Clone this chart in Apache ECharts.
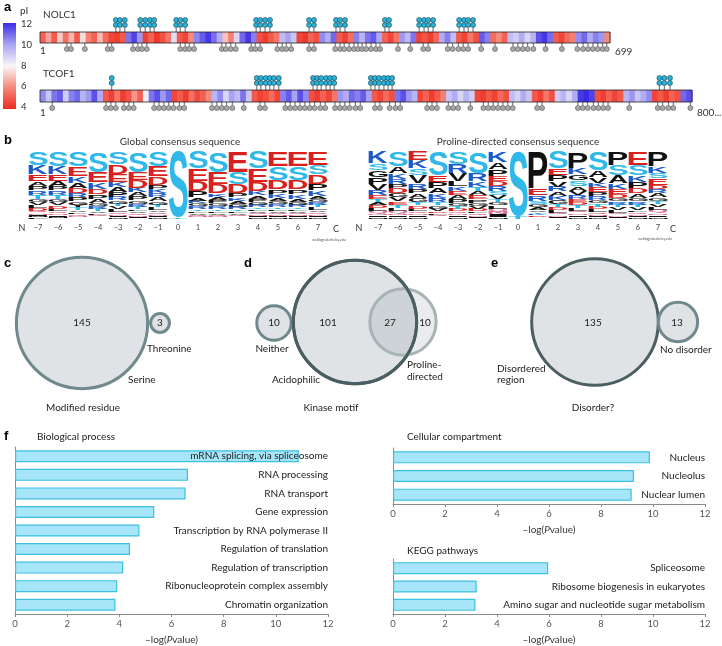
<!DOCTYPE html>
<html><head><meta charset="utf-8">
<script src="https://cdn.jsdelivr.net/npm/echarts@6/dist/echarts.min.js"></script>
<style>html,body{margin:0;padding:0;background:#fff}#c{width:722px;height:646px}</style>
</head><body><div id="c"></div>
<script>
// ---------------- DATA ----------------
// Panel a: pI profile (binned), protein lengths, phosphosites [residue, stacked circles]
const nolc1Length = 699;
const tcof1Length = 800;
const nolc1PI = [5.2,6.5,5.0,7.2,5.5,6.8,5.0,7.5,5.8,5.2,6.9,5.4, 4.6,4.4,5.0, 10.8,11.6,10.2, 4.5,5.2,4.3,4.8,5.6, 8.6, 5.0,4.6,6.0,
  10.5,11.2,11.8,10.9,9.8, 7.0,5.8,8.8, 11.0,11.8,10.6, 4.8,4.4,5.0,5.6, 9.4,10.0,9.2, 4.6,4.3,5.2,4.8, 10.4,9.8,11.0, 5.0,4.5,5.4,
  10.6,9.6,10.8,11.2,9.9, 5.2,4.6,5.6, 10.2,9.5,10.8, 4.5,4.9,4.4,5.3, 9.8,10.6,9.4, 5.0,4.5,5.6,4.8, 11.2,10.6, 5.4,6.0,5.2,
  9.4,9.0,9.8,8.8,9.6, 11.4,11.8,10.9, 5.0,4.6,5.4,5.8, 10.4,11.0,9.8,10.6,10.2, 6.0];
const tcof1PI = [10.4,9.2,10.8,11.2,9.0,10.6,11.0,9.6,10.2,11.4,9.8, 5.0,4.5,5.6,4.4,4.9,6.2,5.2, 8.2, 10.8,11.4,10.2,11.0,
  4.6,5.0,4.4,5.5,4.7,5.2,6.0, 9.6,10.4,8.8,10.0,9.4,10.8,9.2, 5.0,4.5,4.8,5.4,4.6, 10.6,11.2,10.0,11.4,10.4, 4.8,4.4,5.2,4.6,5.6,
  10.2,9.8,11.0,10.6,11.2,10.0, 5.0,4.6,5.4,4.8, 10.8,11.4,10.2,9.6, 4.6,5.2,4.4,5.0,5.8, 9.2,9.8,8.8,9.6,9.0, 4.7,4.4,5.0,4.5,5.3,4.8,
  9.4,8.9,9.8,9.2, 5.0,4.5,5.6,4.8, 9.0,9.6,8.8,9.8, 11.8,12.0,11.6, 4.8,4.4,5.2,4.6,5.0, 9.6,10.2,9.2,9.8,10.4, 4.6,5.0,4.4,5.2,4.8, 11.0,11.4];
const nolc1Above = [[93,2],[98,2],[104,2],[123,2],[129,2],[135,2],[140,2],[167,2],[172,2],[178,2],[265,2],[270,2],[276,2],[282,2],
  [330,2],[336,2],[363,2],[368,2],[374,2],[423,2],[428,2],[465,2],[471,2],[476,2],[482,2],[514,2],[520,2],[525,2],[531,2]];
const nolc1Below = [33,38,55,83,88,114,120,125,131,172,178,183,189,223,228,234,240,259,264,270,291,297,302,308,330,336,362,368,373,379,
  385,390,395,400,406,412,417,439,454,470,476,500,506,513,519,525,541,558,580,586,592,598,605,620,640,659,666,672,678,684,690,695];
const tcof1Above = [[88,2],[266,2],[271,2],[277,2],[282,2],[287,2],[293,2],[335,2],[340,2],[345,2],[351,2],[356,2],[361,2],
  [406,2],[411,2],[416,2],[422,2],[427,2],[432,2],[760,2],[766,2],[773,2]];
const tcof1Below = [15,81,87,93,103,109,115,140,146,152,158,164,171,177,211,217,223,229,236,250,270,276,301,307,313,319,325,331,337,344,350,
  362,368,374,380,387,393,411,417,429,436,442,475,481,487,501,507,513,528,544,550,556,562,568,574,580,610,616,660,666,672,679,685,691,697,723,
  758,764,771,777,798];
const pITicks = [12,10,8,6,4];

// Panel b: sequence logos (letter:percent, top to bottom)
const logoPositions = ['−7','−6','−5','−4','−3','−2','−1','0','1','2','3','4','5','6','7'];
const globalLogo = [
  'S20 K14 E10 A7 P7 R6 T6 G5 V5 L4 D4 Q3 N3 I2 M2 F2',
  'S22 K12 E9 A8 P7 R6 T6 G5 V5 D5 L4 Q3 N3 I2 M2 F1',
  'S22 E14 K10 A8 D8 R6 P6 G5 Y4 T4 V3 L3 Q3 N2 I1 M1',
  'S30 E15 K10 D8 P7 A6 G5 R4 T4 V3 L3 Q2 N1 I1 M1',
  'S18 D14 E12 K8 A7 P7 R5 G5 T4 V4 L4 Q3 N3 I2 M2',
  'S30 E12 D11 K7 A6 P6 G5 R4 T4 L3 V3 Q3 N2 I2 M1',
  'S22 E15 D12 P7 K6 R6 A6 G5 T4 L4 V3 Q3 N3 I2 M2',
  'S98 T2',
  'S25 E18 D15 P10 A5 K4 G4 R4 T3 L3 V3 Q2 N2 I1 M1',
  'S30 E18 D14 K5 A5 P5 G4 R4 T3 L3 V3 Q2 N2 I1 M1',
  'E30 S18 D14 P6 K5 A5 G4 R4 T3 L3 V3 Q2 N1 I1 M1',
  'S25 E20 D14 K6 A5 P5 G4 R4 T3 L3 V3 Q2 N2 I2 M2',
  'E22 S20 D14 P7 K6 A5 G4 R4 T3 L3 V3 Q3 N2 I2 M2',
  'E22 S20 D14 P7 K7 A5 G4 R4 T3 L3 V3 Q2 N2 I2 M2',
  'E20 S14 D14 P10 K8 A5 G4 R4 T4 L4 V3 Q3 N3 I2 M2'];
const prolineLogo = [
  'K17 S10 G11 P10 V9 R7 E6 T5 A5 D4 L4 Q4 N3 I3 M2',
  'S22 A10 K8 R8 P7 D7 G6 V6 E5 T5 L4 Q4 N3 I3 M2',
  'E13 K12 S10 V12 R8 P7 A7 G6 T5 D5 L4 Q3 N3 I3 M2',
  'S35 E10 P9 A8 K7 R6 T5 G5 V4 D3 L3 Q2 N1 I1 M1',
  'S18 R14 V11 L8 K7 E6 A6 P6 G5 T4 D4 Q3 N3 I3 M2',
  'S32 R12 K8 T7 A6 E6 P5 G5 V4 D4 L3 Q3 N2 I2 M1',
  'K16 A10 P10 E8 D7 R7 S6 V6 T5 G5 L5 Q4 N4 I4 M3',
  'S96 T4',
  'P55 E10 R8 S5 G5 A4 V3 T3 K2 D2 L1 Q1 N1',
  'S25 E10 P9 V8 R7 A7 K6 G6 T5 D4 L4 Q3 N3 I2 M1',
  'P24 K10 G9 S8 A7 V6 R6 E5 D5 T4 L4 Q3 N3 I3 M3',
  'S28 A10 V8 K7 E7 P6 R6 G5 T5 D4 L4 Q3 N3 I2 M2',
  'P20 S15 A12 K8 E8 D6 G5 R5 T4 V4 L4 Q3 N3 I2 M1',
  'E20 S15 K10 P9 D8 A7 G5 R5 T4 V4 L3 Q3 N3 I2 M2',
  'P22 K10 S8 E10 D6 R6 A6 G5 T5 V5 L4 Q4 N3 I3 M3'];

// Panels c–e: Venn counts
const modifiedResidue = {Serine:145, Threonine:3};
const kinaseMotif = {Neither:10, AcidophilicOnly:101, Both:27, ProlineOnly:10};
const disorderCounts = {Disordered:135, NoDisorder:13};

// Panel f: enrichment
const bioTerms = ['mRNA splicing, via spliceosome','RNA processing','RNA transport','Gene expression','Transcription by RNA polymerase II',
  'Regulation of translation','Regulation of transcription','Ribonucleoprotein complex assembly','Chromatin organization'];
const bioValues = [10.88, 6.63, 6.54, 5.34, 4.77, 4.41, 4.15, 3.92, 3.85];
const cellTerms = ['Nucleus','Nucleolus','Nuclear lumen'];
const cellValues = [9.88, 9.27, 9.18];
const keggTerms = ['Spliceosome','Ribosome biogenesis in eukaryotes','Amino sugar and nucleotide sugar metabolism'];
const keggValues = [5.97, 3.22, 3.17];

// ---------------- STYLE ----------------
const FF = 'Lato';
const FS = 10;
const pIColors = ['#ee2a1c','#f5897c','#faf6f7','#a9a4f2','#3b2be6']; // 4,6,8,10,12
const chart = echarts.init(document.getElementById('c'), null, {renderer:'canvas'});

function bins(arr, len){ const w = len/arr.length; return arr.map((v,i)=>[i*w,(i+1)*w,v]); }
function stripRender(params, api){
  const p0 = api.coord([api.value(0), 1]);
  const p1 = api.coord([api.value(1), 0]);
  return {type:'rect', shape:{x:p0[0], y:p0[1], width:p1[0]-p0[0]+0.6, height:p1[1]-p0[1]}, style:{fill: api.visual('color')}};
}
function outlineRender(params, api){
  const p0 = api.coord([0, 1]); const p1 = api.coord([api.value(0), 0]);
  return {type:'rect', shape:{x:p0[0], y:p0[1], width:p1[0]-p0[0], height:p1[1]-p0[1]}, style:{fill:'none', stroke:'#222', lineWidth:0.8}};
}
function lollipop(dir, fill, stroke){
  return function(params, api){
    const p = api.coord([api.value(0), dir > 0 ? 1 : 0]);
    const n = api.value(1);
    const r = 2.5, stem = dir > 0 ? 4.5 : 3.5;
    const ch = [{type:'line', shape:{x1:p[0], y1:p[1], x2:p[0], y2:p[1]-dir*stem}, style:{stroke:'#222', lineWidth:0.7}}];
    for (let k = 0; k < n; k++) {
      ch.push({type:'circle', shape:{cx:p[0], cy:p[1]-dir*(stem + r + k*2*r), r:r}, style:{fill:fill, stroke:stroke, lineWidth:0.6}});
    }
    return {type:'group', children: ch};
  };
}

// glyph metrics
const mctx = document.createElement('canvas').getContext('2d');
const LF = 'bold 100px "Liberation Sans"';
const gcache = {};
function glyph(ch){
  if (!gcache[ch]) {
    mctx.font = LF; mctx.textBaseline = 'middle'; mctx.textAlign = 'center';
    const m = mctx.measureText(ch);
    gcache[ch] = {l:m.actualBoundingBoxLeft, r:m.actualBoundingBoxRight, a:m.actualBoundingBoxAscent, d:m.actualBoundingBoxDescent};
  }
  return gcache[ch];
}
function letterColor(ch){
  if ('ST'.includes(ch)) return '#2fb8e8';
  if ('KRH'.includes(ch)) return '#1d5ac9';
  if ('DE'.includes(ch)) return '#d8201c';
  if ('QN'.includes(ch)) return '#d9708c';
  return '#111';
}
function parseCol(s){ return s.split(' ').map(t => [t[0], parseFloat(t.slice(1))]); }
function logoRender(logo){
  return function(params, api){
    const i = api.value(0);
    const col = parseCol(logo[params.dataIndex]);
    const total = col.reduce((s,c)=>s+c[1], 0);
    const bw = api.size([1,0])[0];
    const cx = api.coord([i, 0])[0];
    const x0 = cx - bw/2 + 0.5, x1 = cx + bw/2 - 0.5;
    let acc = 0; const children = [];
    for (let k = col.length-1; k >= 0; k--) {
      const ch = col[k][0], f = col[k][1];
      const yb = api.coord([i, acc/total])[1];
      const yt = api.coord([i, (acc+f)/total])[1];
      acc += f;
      const h = yb - yt - 0.3; if (h < 0.4) continue;
      const g = glyph(ch);
      const sx = (x1-x0)/(g.l+g.r), sy = h/(g.a+g.d);
      children.push({type:'text', x: x0 + g.l*sx, y: yt + g.a*sy, scaleX: sx, scaleY: sy,
        style:{text: ch, font: LF, fill: letterColor(ch), align:'center', verticalAlign:'middle', textAlign:'center', textVerticalAlign:'middle'}});
    }
    return {type:'group', children};
  };
}

// graphic helpers
function T(text, x, y, o){
  o = o || {};
  const a = o.a || 'left';
  return {type:'text', x:x, y:y, z:100, style:{text:text, font:(o.w||'normal')+' '+(o.s||FS)+'px '+(o.f||FF), fill:o.c||'#222',
    align:a, textAlign:a, verticalAlign:'middle', textVerticalAlign:'middle'}};
}
const VK = 5.45;
function rad(n){ return VK*Math.sqrt(n); }
function C(cx, cy, n, stroke, fill, z){
  return {type:'circle', z:z||10, shape:{cx:cx, cy:cy, r:rad(n)}, style:{fill:fill, stroke:stroke, lineWidth:3}};
}
const midStroke = '#6f898d', darkStroke = '#4b5e61', lightStroke = '#a7b3b5', vfill = '#dfe3e5';

// colorbar
const cbTop = 24, cbBot = 107;
const graphic = [
  {type:'rect', shape:{x:3, y:23, width:13, height:86}, z:5, style:{fill:{type:'linear', x:0, y:0, x2:0, y2:1,
    colorStops:[{offset:0,color:pIColors[4]},{offset:0.25,color:pIColors[3]},{offset:0.5,color:pIColors[2]},{offset:0.75,color:pIColors[1]},{offset:1,color:pIColors[0]}]}}},
  T('pI', 20, 11, {c:'#333'}),
  ...pITicks.map(v => T(String(v), 21, cbTop + (12-v)/8*(cbBot-cbTop), {s:9.5, c:'#333'})),
  T('a', 4, 7, {w:'bold', s:13, f:'Liberation Sans', c:'#000'}),
  T('NOLC1', 43, 15, {c:'#333'}),
  T('TCOF1', 43, 74, {c:'#333'}),
  T('1', 40, 51, {c:'#333'}),
  T(String(nolc1Length), 615, 52, {c:'#333'}),
  T('1', 40, 113, {c:'#333'}),
  T(tcof1Length + '...', 697, 113, {c:'#333'}),
  // b
  T('b', 4, 140, {w:'bold', s:13, f:'Liberation Sans', c:'#000'}),
  T('Global consensus sequence', 180, 142, {a:'center', c:'#333'}),
  T('Proline-directed consensus sequence', 518, 142, {a:'center', c:'#333'}),
  T('N', 22, 228, {a:'center', s:9, c:'#333'}),
  T('C', 336, 229, {a:'center', s:9, c:'#333'}),
  T('N', 359, 228, {a:'center', s:9, c:'#333'}),
  T('C', 673, 229, {a:'center', s:9, c:'#333'}),
  T('weblogo.berkeley.edu', 329, 240, {a:'center', s:3.5, c:'#555'}),
  T('weblogo.berkeley.edu', 655, 239, {a:'center', s:3.5, c:'#555'}),
  // c
  T('c', 4, 263, {w:'bold', s:13, f:'Liberation Sans', c:'#000'}),
  C(82, 323, modifiedResidue.Serine, midStroke, vfill),
  C(160, 323, modifiedResidue.Threonine, midStroke, vfill),
  T(String(modifiedResidue.Serine), 82, 323, {a:'center'}),
  T(String(modifiedResidue.Threonine), 160, 323, {a:'center'}),
  T('Threonine', 147, 349),
  T('Serine', 128, 380),
  T('Modified residue', 83, 408, {a:'center'}),
  // d
  T('d', 244, 263, {w:'bold', s:13, f:'Liberation Sans', c:'#000'}),
  C(274, 323, kinaseMotif.Neither, midStroke, vfill),
  C(355, 322, kinaseMotif.AcidophilicOnly + kinaseMotif.Both, darkStroke, vfill, 10),
  {type:'circle', z:11, shape:{cx:403, cy:322, r:rad(kinaseMotif.Both + kinaseMotif.ProlineOnly)}, style:{fill:'rgba(110,122,126,0.15)', stroke:lightStroke, lineWidth:3}},
  {type:'circle', z:12, shape:{cx:355, cy:322, r:rad(kinaseMotif.AcidophilicOnly + kinaseMotif.Both)}, style:{fill:'none', stroke:darkStroke, lineWidth:3}},
  T(String(kinaseMotif.Neither), 274, 323, {a:'center'}),
  T(String(kinaseMotif.AcidophilicOnly), 328, 323, {a:'center'}),
  T(String(kinaseMotif.Both), 390, 323, {a:'center'}),
  T(String(kinaseMotif.ProlineOnly), 425, 323, {a:'center'}),
  T('Neither', 272, 349, {a:'center'}),
  T('Acidophilic', 296, 380, {a:'center'}),
  T('Proline-', 407, 365),
  T('directed', 407, 377),
  T('Kinase motif', 331, 408, {a:'center'}),
  // e
  T('e', 491, 263, {w:'bold', s:13, f:'Liberation Sans', c:'#000'}),
  C(595, 322, disorderCounts.Disordered, darkStroke, vfill),
  C(678, 322, disorderCounts.NoDisorder, midStroke, vfill),
  T(String(disorderCounts.Disordered), 593, 323, {a:'center'}),
  T(String(disorderCounts.NoDisorder), 677, 323, {a:'center'}),
  T('No disorder', 660, 350),
  T('Disordered', 497, 369),
  T('region', 497, 380),
  T('Disorder?', 593, 408, {a:'center'}),
  // f
  T('f', 4, 436, {w:'bold', s:13, f:'Liberation Sans', c:'#000'}),
  T('Biological process', 37, 437),
  T('Cellular compartment', 407, 437),
  T('KEGG pathways', 407, 551)
];

function barX(gi){
  return {gridIndex:gi, type:'value', min:0, max:12, interval:2,
    axisLine:{show:true, lineStyle:{color:'#8a8a8a', width:1}},
    axisTick:{show:true, length:3, lineStyle:{color:'#8a8a8a'}},
    axisLabel:{fontSize:9.5, color:'#555', margin:5, fontFamily:FF},
    splitLine:{show:false},
    name:'–log({i|P}value)', nameLocation:'middle', nameGap:21,
    nameTextStyle:{fontSize:FS, color:'#333', fontFamily:FF, rich:{i:{fontStyle:'italic', fontSize:FS, color:'#333', fontFamily:FF}}}};
}
function barYLeft(gi, data){
  return {gridIndex:gi, type:'category', data:data, inverse:true,
    axisLine:{show:true, lineStyle:{color:'#8a8a8a'}}, axisTick:{show:false}, axisLabel:{show:false}};
}
function barYRight(gi, data){
  return {gridIndex:gi, type:'category', data:data, inverse:true, position:'right', z:20,
    axisLine:{show:false, onZero:false}, axisTick:{show:false},
    axisLabel:{inside:true, margin:0, fontSize:FS, color:'#222', fontFamily:FF}};
}
const barStyle = {color:'#a6e6f8', borderColor:'#3cc0e4', borderWidth:1.2};

const option = {
  animation:false,
  backgroundColor:'#fff',
  textStyle:{fontFamily:FF},
  grid:[
    {left:40, top:32, width:570, height:11},
    {left:40, top:90, width:652, height:12},
    {left:28, top:152, width:300, height:67},
    {left:368, top:152, width:300, height:67},
    {left:15, top:447, width:313, height:167},
    {left:393, top:448, width:312, height:56},
    {left:393, top:559, width:312, height:55}
  ],
  xAxis:[
    {gridIndex:0, type:'value', min:0, max:nolc1Length, show:false},
    {gridIndex:1, type:'value', min:0, max:tcof1Length, show:false},
    {gridIndex:2, type:'category', data:logoPositions, axisLine:{show:false}, axisTick:{show:false}, axisLabel:{fontSize:7.5, color:'#444', margin:5}},
    {gridIndex:3, type:'category', data:logoPositions, axisLine:{show:false}, axisTick:{show:false}, axisLabel:{fontSize:7.5, color:'#444', margin:5}},
    barX(4), barX(5), barX(6)
  ],
  yAxis:[
    {gridIndex:0, type:'value', min:0, max:1, show:false},
    {gridIndex:1, type:'value', min:0, max:1, show:false},
    {gridIndex:2, type:'value', min:0, max:1, show:false},
    {gridIndex:3, type:'value', min:0, max:1, show:false},
    barYLeft(4, bioTerms), barYRight(4, bioTerms),
    barYLeft(5, cellTerms), barYRight(5, cellTerms),
    barYLeft(6, keggTerms), barYRight(6, keggTerms)
  ],
  visualMap:{type:'continuous', show:false, min:4, max:12, dimension:2, seriesIndex:[0,1], inRange:{color:pIColors}},
  series:[
    {type:'custom', xAxisIndex:0, yAxisIndex:0, data:bins(nolc1PI, nolc1Length), renderItem:stripRender, clip:false, z:2},
    {type:'custom', xAxisIndex:1, yAxisIndex:1, data:bins(tcof1PI, tcof1Length), renderItem:stripRender, clip:false, z:2},
    {type:'custom', xAxisIndex:0, yAxisIndex:0, data:[[nolc1Length, 0]], renderItem:outlineRender, clip:false, z:3},
    {type:'custom', xAxisIndex:1, yAxisIndex:1, data:[[tcof1Length, 0]], renderItem:outlineRender, clip:false, z:3},
    {type:'custom', xAxisIndex:0, yAxisIndex:0, data:nolc1Above, renderItem:lollipop(1, '#2ab3d8', '#1b3e4a'), clip:false, z:4},
    {type:'custom', xAxisIndex:0, yAxisIndex:0, data:nolc1Below.map(p=>[p,1]), renderItem:lollipop(-1, '#a9a9a9', '#555'), clip:false, z:4},
    {type:'custom', xAxisIndex:1, yAxisIndex:1, data:tcof1Above, renderItem:lollipop(1, '#2ab3d8', '#1b3e4a'), clip:false, z:4},
    {type:'custom', xAxisIndex:1, yAxisIndex:1, data:tcof1Below.map(p=>[p,1]), renderItem:lollipop(-1, '#a9a9a9', '#555'), clip:false, z:4},
    {type:'custom', xAxisIndex:2, yAxisIndex:2, data:logoPositions.map((p,i)=>[i,1]), renderItem:logoRender(globalLogo), clip:false},
    {type:'custom', xAxisIndex:3, yAxisIndex:3, data:logoPositions.map((p,i)=>[i,1]), renderItem:logoRender(prolineLogo), clip:false},
    {type:'bar', xAxisIndex:4, yAxisIndex:4, data:bioValues, barWidth:12, itemStyle:barStyle},
    {type:'bar', xAxisIndex:5, yAxisIndex:6, data:cellValues, barWidth:12, itemStyle:barStyle},
    {type:'bar', xAxisIndex:6, yAxisIndex:8, data:keggValues, barWidth:12, itemStyle:barStyle}
  ],
  graphic: graphic
};
chart.setOption(option);
</script></body></html>
